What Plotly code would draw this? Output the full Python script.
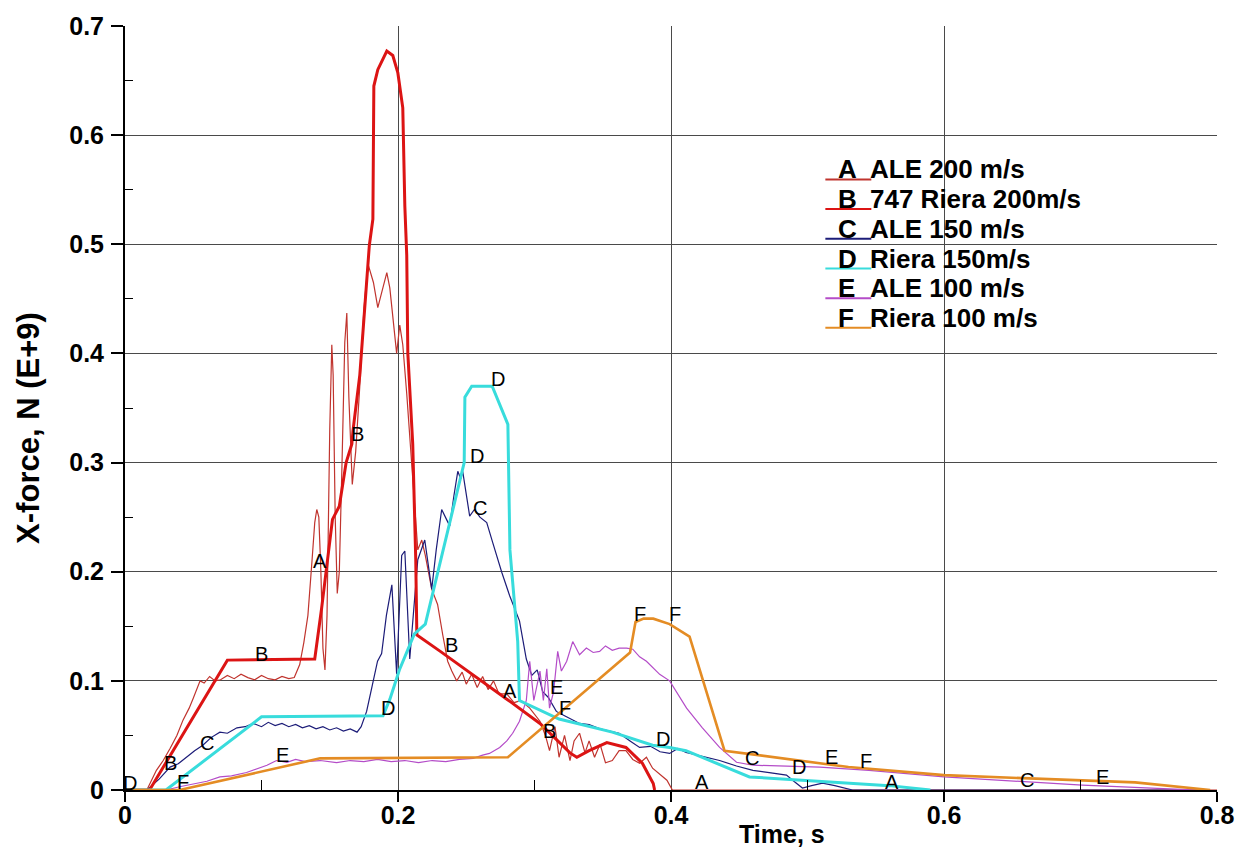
import plotly.graph_objects as go

# ---------------- data ----------------
# A: ALE 200 m/s (thin red)
A_t = [0, 0.016, 0.023, 0.028, 0.033, 0.038, 0.0425, 0.047, 0.05, 0.055, 0.058, 0.062, 0.066, 0.07,
       0.075, 0.08, 0.085, 0.09, 0.095, 0.10, 0.105, 0.11, 0.115, 0.12, 0.124, 0.128, 0.131, 0.134,
       0.137, 0.139, 0.1405, 0.142, 0.1435, 0.145, 0.1465, 0.148, 0.150, 0.1515, 0.1525, 0.154, 0.1555,
       0.157, 0.159, 0.161, 0.1625, 0.164, 0.1665, 0.169, 0.172, 0.175, 0.178, 0.182, 0.1852, 0.188,
       0.1918, 0.194, 0.196, 0.199, 0.2013, 0.2035, 0.2064, 0.209, 0.212, 0.2145, 0.2174, 0.22, 0.2247,
       0.229, 0.2328, 0.2364, 0.2394, 0.243, 0.247, 0.25, 0.254, 0.258, 0.262, 0.266, 0.27, 0.274,
       0.2797, 0.285, 0.29, 0.2965, 0.304, 0.308, 0.311, 0.315, 0.318, 0.322, 0.326, 0.329, 0.333,
       0.337, 0.34, 0.344, 0.348, 0.352, 0.357, 0.362, 0.367, 0.372, 0.377, 0.382, 0.3865, 0.392,
       0.397, 0.401, 0.8]
A_f = [0, 0, 0.018, 0.027, 0.038, 0.05, 0.064, 0.075, 0.084, 0.10, 0.098, 0.104, 0.1, 0.101,
       0.105, 0.102, 0.106, 0.103, 0.101, 0.105, 0.102, 0.101, 0.104, 0.102, 0.103, 0.115, 0.135, 0.16,
       0.21, 0.245, 0.257, 0.25, 0.2, 0.13, 0.11, 0.16, 0.33, 0.408, 0.38, 0.25, 0.18,
       0.2, 0.3, 0.41, 0.437, 0.36, 0.28, 0.31, 0.37, 0.44, 0.482, 0.465, 0.442, 0.455,
       0.474, 0.46, 0.435, 0.40, 0.426, 0.408, 0.363, 0.32, 0.27, 0.22, 0.229, 0.215, 0.184,
       0.17, 0.142, 0.118, 0.109, 0.1, 0.108, 0.097, 0.106, 0.094, 0.104, 0.092, 0.1, 0.088,
       0.088, 0.08, 0.082, 0.075, 0.063, 0.05, 0.036, 0.058, 0.03, 0.05, 0.027, 0.045, 0.052,
       0.034, 0.045, 0.03, 0.042, 0.025, 0.027, 0.036, 0.036, 0.028, 0.0245, 0.03, 0.02, 0.014,
       0.009, 0, 0]

# B: 747 Riera 200 m/s (thick red)
B_t = [0, 0.018, 0.075, 0.139, 0.144, 0.152, 0.157, 0.162, 0.1662, 0.167, 0.172, 0.178, 0.179,
       0.1816, 0.1823, 0.1852, 0.1918, 0.1962, 0.1999, 0.2035, 0.205, 0.2064, 0.2072, 0.2108,
       0.213, 0.2138, 0.231, 0.28, 0.304, 0.326, 0.331, 0.34, 0.353, 0.367, 0.379, 0.387, 0.388]
B_f = [0, 0, 0.119, 0.12, 0.166, 0.248, 0.26, 0.30, 0.317, 0.329, 0.38, 0.48, 0.499,
       0.523, 0.645, 0.66, 0.677, 0.673, 0.657, 0.625, 0.535, 0.49, 0.40, 0.317,
       0.211, 0.142, 0.127, 0.083, 0.061, 0.034, 0.030, 0.036, 0.0435, 0.039, 0.0245, 0.006, 0]

# C: ALE 150 m/s (navy)
C_t = [0, 0.016, 0.025, 0.033, 0.039, 0.045, 0.051, 0.057, 0.063, 0.0695, 0.075, 0.082, 0.088,
       0.094, 0.10, 0.105, 0.11, 0.115, 0.12, 0.125, 0.13, 0.135, 0.14, 0.145, 0.15, 0.155, 0.16,
       0.165, 0.17, 0.173, 0.177, 0.181, 0.185, 0.188, 0.1915, 0.1955, 0.199, 0.2027, 0.205,
       0.2086, 0.212, 0.2145, 0.2196, 0.2247, 0.228, 0.232, 0.2357, 0.2379, 0.241, 0.2438, 0.246,
       0.2474, 0.2525, 0.256, 0.26, 0.265, 0.2694, 0.276, 0.2818, 0.289, 0.294, 0.298, 0.302,
       0.306, 0.31, 0.316, 0.322, 0.328, 0.333, 0.34, 0.348, 0.355, 0.362, 0.37, 0.377, 0.385,
       0.392, 0.399, 0.405, 0.411, 0.42, 0.4356, 0.448, 0.46, 0.472, 0.4846, 0.49, 0.4963, 0.503,
       0.511, 0.52, 0.533, 0.79]
C_f = [0, 0, 0.01, 0.021, 0.024, 0.03, 0.036, 0.041, 0.048, 0.053, 0.052, 0.057, 0.058,
       0.061, 0.058, 0.062, 0.059, 0.061, 0.058, 0.06, 0.057, 0.059, 0.056, 0.058, 0.055, 0.057, 0.054,
       0.056, 0.053, 0.058, 0.072, 0.095, 0.118, 0.125, 0.16, 0.188, 0.106, 0.215, 0.219,
       0.12, 0.17, 0.211, 0.229, 0.184, 0.22, 0.257, 0.2475, 0.242, 0.27, 0.292, 0.285,
       0.292, 0.251, 0.257, 0.25, 0.245, 0.2267, 0.1995, 0.178, 0.155, 0.12, 0.105, 0.11,
       0.09, 0.085, 0.072, 0.068, 0.064, 0.061, 0.06, 0.056, 0.054, 0.052, 0.045, 0.039, 0.04,
       0.035, 0.0335, 0.038, 0.0345, 0.032, 0.027, 0.022, 0.018, 0.016, 0.0136, 0.008, 0.0018, 0.004,
       0.0063, 0.004, 0, 0]

# D: Riera 150 m/s (cyan)
D_t = [0, 0.03, 0.100, 0.189, 0.194, 0.201, 0.212, 0.22, 0.2485, 0.249, 0.254, 0.269, 0.2805,
       0.282, 0.2877, 0.289, 0.318, 0.357, 0.3865, 0.399, 0.411, 0.4575, 0.56, 0.59]
D_f = [0, 0, 0.067, 0.068, 0.083, 0.11, 0.143, 0.152, 0.30, 0.36, 0.37, 0.37, 0.335,
       0.22, 0.136, 0.082, 0.065, 0.053, 0.041, 0.039, 0.036, 0.012, 0.004, 0]

# E: ALE 100 m/s (violet)
E_t = [0, 0.03, 0.04, 0.053, 0.06, 0.0695, 0.078, 0.089, 0.096, 0.104, 0.111, 0.1186, 0.125,
       0.132, 0.143, 0.155, 0.165, 0.175, 0.185, 0.195, 0.205, 0.215, 0.225, 0.235, 0.245, 0.255,
       0.262, 0.267, 0.2745, 0.2797, 0.284, 0.289, 0.294, 0.2965, 0.2995, 0.304, 0.3065, 0.309,
       0.311, 0.314, 0.317, 0.3197, 0.3236, 0.328, 0.333, 0.338, 0.343, 0.3477, 0.352, 0.357,
       0.362, 0.3675, 0.372, 0.377, 0.382, 0.3865, 0.3917, 0.399, 0.405, 0.4114, 0.423, 0.4356,
       0.448, 0.46, 0.509, 0.545, 0.6, 0.7013, 0.765, 0.787]
E_f = [0, 0, 0.003, 0.0063, 0.008, 0.012, 0.013, 0.016, 0.019, 0.0227, 0.027, 0.0254, 0.028,
       0.026, 0.027, 0.025, 0.027, 0.026, 0.028, 0.026, 0.027, 0.025, 0.027, 0.026, 0.028, 0.029,
       0.032, 0.0335, 0.039, 0.045, 0.052, 0.063, 0.082, 0.118, 0.082, 0.109, 0.082, 0.111,
       0.075, 0.09, 0.127, 0.109, 0.118, 0.136, 0.124, 0.13, 0.126, 0.127, 0.132, 0.128,
       0.13, 0.13, 0.129, 0.122, 0.118, 0.112, 0.106, 0.1, 0.088, 0.075, 0.057, 0.039,
       0.0254, 0.0227, 0.021, 0.018, 0.012, 0.0045, 0.001, 0]

# F: Riera 100 m/s (orange)
F_t = [0, 0.04, 0.143, 0.2805, 0.370, 0.374, 0.38, 0.387, 0.399, 0.4136, 0.4392, 0.53, 0.60,
       0.70, 0.74, 0.795]
F_f = [0, 0, 0.029, 0.030, 0.126, 0.154, 0.157, 0.157, 0.152, 0.1405, 0.036, 0.021, 0.0136,
       0.009, 0.007, 0]

# letter markers placed along the curves
mark_text = ["A", "A", "A", "A",
             "B", "B", "B", "B", "B",
             "C", "C", "C", "C",
             "D", "D", "D", "D", "D", "D",
             "E", "E", "E", "E",
             "F", "F", "F", "F", "F", "F"]
mark_t = [0.1428, 0.282, 0.423, 0.562,
          0.033, 0.1003, 0.17, 0.2394, 0.311,
          0.06, 0.26, 0.4597, 0.661,
          0.004, 0.1925, 0.2577, 0.273, 0.394, 0.494,
          0.1157, 0.3163, 0.5176, 0.716,
          0.0425, 0.3225, 0.377, 0.4026, 0.543, 0.805]
mark_f = [0.21, 0.0906, 0.007, 0.007,
          0.0245, 0.125, 0.326, 0.133, 0.054,
          0.043, 0.258, 0.029, 0.009,
          0.006, 0.075, 0.306, 0.377, 0.047, 0.021,
          0.032, 0.0945, 0.03, 0.012,
          0.007, 0.075, 0.161, 0.161, 0.027, 0.009]

legend_letters = ["A", "B", "C", "D", "E", "F"]
legend_labels = ["ALE 200 m/s", "747 Riera 200m/s", "ALE 150 m/s",
                 "Riera 150m/s", "ALE 100 m/s", "Riera 100 m/s"]

x_ticks = [0, 0.2, 0.4, 0.6, 0.8]
x_ticktext = ["0", "0.2", "0.4", "0.6", "0.8"]
x_minor = [0.1, 0.3, 0.5, 0.7]
y_ticks = [0, 0.1, 0.2, 0.3, 0.4, 0.5, 0.6, 0.7]
y_ticktext = ["0", "0.1", "0.2", "0.3", "0.4", "0.5", "0.6", "0.7"]
y_minor = [0.05, 0.15, 0.25, 0.35, 0.45, 0.55, 0.65]

# ---------------- styles ----------------
COL = {"A": "#c0342e", "B": "#dc1414", "C": "#1c1c78", "D": "#38dcdc", "E": "#b44cc8", "F": "#e48c24"}
WID = {"A": 1.2, "B": 3, "C": 1.2, "D": 3, "E": 1.2, "F": 2.6}
SERIES = {"A": (A_t, A_f), "B": (B_t, B_f), "C": (C_t, C_f),
          "D": (D_t, D_f), "E": (E_t, E_f), "F": (F_t, F_f)}
FONT = "Liberation Sans, Arial, sans-serif"

L, R, T, Bm = 125, 28, 18, 58
W, H = 1246, 848
PW, PH = W - L - R, H - T - Bm


def pxx(px):
    return (px - L) / PW


def pxy(py):
    return (H - Bm - py) / PH


fig = go.Figure()
for key in ["A", "C", "E", "B", "D", "F"]:
    t, f = SERIES[key]
    fig.add_trace(go.Scatter(x=t, y=f, mode="lines", name=key,
                             line=dict(color=COL[key], width=WID[key]),
                             hoverinfo="skip", showlegend=False))

annotations = []
for txt, t, f in zip(mark_text, mark_t, mark_f):
    annotations.append(dict(x=t, y=f, xref="x", yref="y", text=txt, showarrow=False,
                            font=dict(family=FONT, size=20, color="black")))

shapes = [dict(type="rect", xref="paper", yref="paper", x0=pxx(820), x1=pxx(1098),
               y0=pxy(330), y1=pxy(133), fillcolor="white", line=dict(width=0), layer="between")]

for i, (let, lab) in enumerate(zip(legend_letters, legend_labels)):
    yc = 163 + i * 30
    yl = 173 + i * 30
    shapes.append(dict(type="line", xref="paper", yref="paper", x0=pxx(826), x1=pxx(872),
                       y0=pxy(yl), y1=pxy(yl), line=dict(color=COL[let], width=2)))
    annotations.append(dict(x=pxx(837), y=pxy(yc), xref="paper", yref="paper", text=let,
                            showarrow=False, xanchor="left", yanchor="middle",
                            font=dict(family=FONT, size=26, color="black", weight="bold")))
    annotations.append(dict(x=pxx(869), y=pxy(yc), xref="paper", yref="paper", text=lab,
                            showarrow=False, xanchor="left", yanchor="middle",
                            font=dict(family=FONT, size=26, color="black", weight="bold")))

annotations.append(dict(x=pxx(783), y=pxy(834), xref="paper", yref="paper", text="Time, s",
                        showarrow=False, xanchor="center", yanchor="middle",
                        font=dict(family=FONT, size=25, color="black", weight="bold")))
annotations.append(dict(x=pxx(29), y=pxy(424), xref="paper", yref="paper", text="X-force, N (E+9)",
                        showarrow=False, xanchor="center", yanchor="middle", textangle=-90,
                        font=dict(family=FONT, size=31, color="black", weight="bold")))

tickfont = dict(family=FONT, size=25, color="black", weight="bold")
fig.update_layout(
    width=W, height=H, autosize=False,
    margin=dict(l=L, r=R, t=T, b=Bm, pad=0),
    paper_bgcolor="white", plot_bgcolor="white",
    showlegend=False,
    annotations=annotations, shapes=shapes,
    xaxis=dict(range=[0, 0.8], tickmode="array", tickvals=x_ticks, ticktext=x_ticktext,
               showgrid=True, gridcolor="#4a4a4a", gridwidth=1, zeroline=False,
               showline=True, linecolor="black", linewidth=2,
               ticks="outside", ticklen=10, tickwidth=1.5, tickcolor="black",
               ticklabelstandoff=-8,
               minor=dict(tickmode="array", tickvals=x_minor, ticks="inside", ticklen=10,
                          tickwidth=1.2, tickcolor="black", showgrid=False),
               tickfont=tickfont, fixedrange=True),
    yaxis=dict(range=[0, 0.7], tickmode="array", tickvals=y_ticks, ticktext=y_ticktext,
               showgrid=True, gridcolor="#4a4a4a", gridwidth=1, zeroline=False,
               showline=True, linecolor="black", linewidth=2,
               ticks="outside", ticklen=12, tickwidth=1.5, tickcolor="black",
               ticklabelstandoff=2,
               minor=dict(tickmode="array", tickvals=y_minor, ticks="inside", ticklen=8,
                          tickwidth=1.2, tickcolor="black", showgrid=False),
               tickfont=tickfont, fixedrange=True),
)

fig.write_html("out.html", include_plotlyjs=True, config={"displayModeBar": False})
